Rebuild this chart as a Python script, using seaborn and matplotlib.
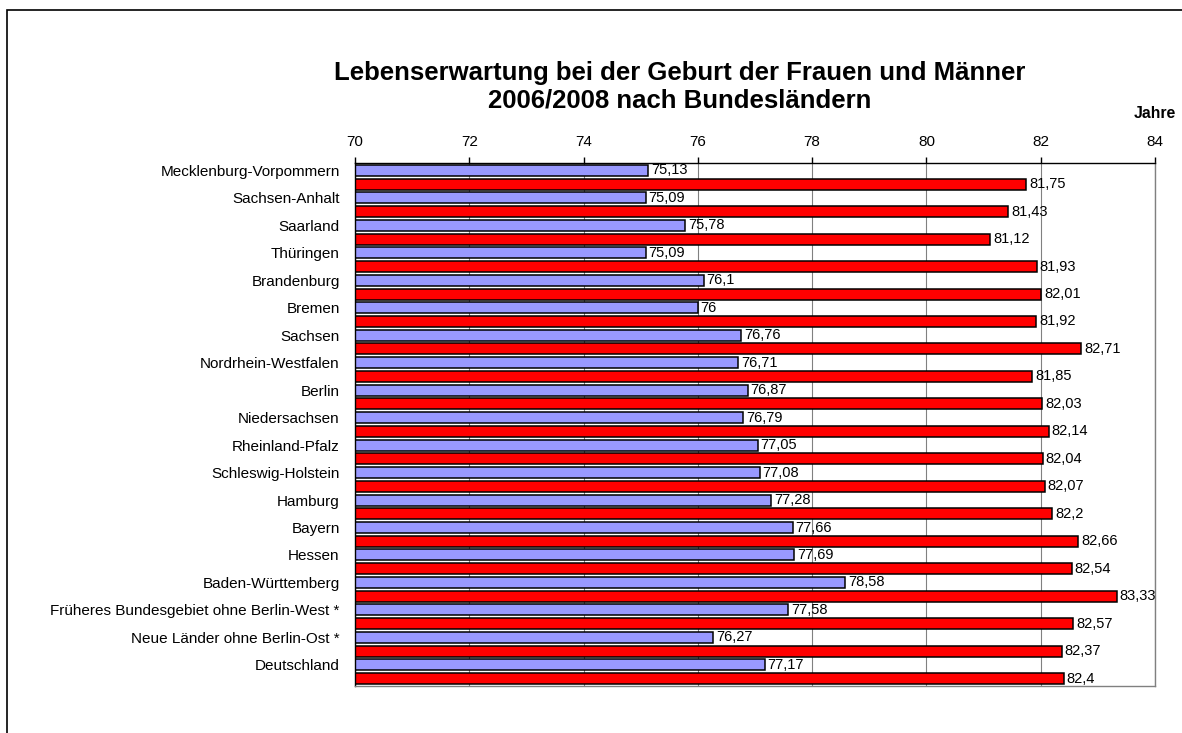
import pandas as pd
import numpy as np
import matplotlib
matplotlib.use("Agg")
import matplotlib.pyplot as plt
import matplotlib.patches as mpatches
import seaborn as sns

# Data
laender = [
    "Mecklenburg-Vorpommern", "Sachsen-Anhalt", "Saarland", "Thüringen",
    "Brandenburg", "Bremen", "Sachsen", "Nordrhein-Westfalen", "Berlin",
    "Niedersachsen", "Rheinland-Pfalz", "Schleswig-Holstein", "Hamburg",
    "Bayern", "Hessen", "Baden-Württemberg",
    "Früheres Bundesgebiet ohne Berlin-West *",
    "Neue Länder ohne Berlin-Ost *", "Deutschland",
]
maenner = [75.13, 75.09, 75.78, 75.09, 76.1, 76, 76.76, 76.71, 76.87, 76.79,
           77.05, 77.08, 77.28, 77.66, 77.69, 78.58, 77.58, 76.27, 77.17]
frauen = [81.75, 81.43, 81.12, 81.93, 82.01, 81.92, 82.71, 81.85, 82.03, 82.14,
          82.04, 82.07, 82.2, 82.66, 82.54, 83.33, 82.57, 82.37, 82.4]
x_ticks = [70, 72, 74, 76, 78, 80, 82, 84]

df = pd.DataFrame({
    "Land": laender * 2,
    "Jahre": maenner + frauen,
    "Geschlecht": ["Männer"] * len(laender) + ["Frauen"] * len(laender),
})

sns.set_style("white")
plt.rcParams['font.family'] = ['Liberation Sans', 'DejaVu Sans']
plt.rcParams['text.color'] = 'black'
plt.rcParams['xtick.color'] = 'black'
plt.rcParams['ytick.color'] = 'black'

fig = plt.figure(figsize=(11.82, 7.33), dpi=100)
ax = fig.add_axes([355 / 1182, 1 - 686 / 733, 800 / 1182, 523 / 733])

sns.barplot(data=df, y="Land", x="Jahre", hue="Geschlecht", orient="h",
            palette=["#9999FF", "#FF0000"], saturation=1, width=1.0, gap=0.2,
            edgecolor="black", linewidth=1.1, legend=False, ax=ax)

# value labels with German decimal comma
for cont in ax.containers:
    labels = [f"{b.get_width():g}".replace(".", ",") for b in cont]
    ax.bar_label(cont, labels=labels, padding=2, fontsize=10.5, color="black")

ax.set_xlim(70, 84)
ax.set_ylim(len(laender) - 0.5 + 0.02, -0.5 - 0.02)
ax.set_xticks(x_ticks)
ax.xaxis.tick_top()
ax.tick_params(axis="x", direction="out", length=4, width=1, color="black",
               labelsize=11, pad=6)
ax.set_yticks(np.arange(len(laender)) - 0.25)
ax.set_yticklabels(laender)
ax.tick_params(axis="y", length=0, labelsize=11, pad=11)
ax.set_xlabel("")
ax.set_ylabel("")

ax.grid(axis="x", color="#808080", linewidth=0.8)
ax.grid(axis="y", visible=False)
ax.set_axisbelow(True)

for side in ["left", "top"]:
    ax.spines[side].set_color("black")
    ax.spines[side].set_linewidth(1)
for side in ["right", "bottom"]:
    ax.spines[side].set_color("#808080")
    ax.spines[side].set_linewidth(1)

fig.text(680 / 1182, 1 - 73 / 733,
         "Lebenserwartung bei der Geburt der Frauen und Männer",
         ha="center", va="center", fontsize=18.5, fontweight="bold")
fig.text(680 / 1182, 1 - 101 / 733, "2006/2008 nach Bundesländern",
         ha="center", va="center", fontsize=18.5, fontweight="bold")
fig.text(1176 / 1182, 1 - 113 / 733, "Jahre", ha="right", va="center",
         fontsize=11.3, fontweight="bold")

# outer chart frame (runs off the right and bottom edges)
frame = mpatches.Rectangle((7 / 1182, -0.1), 1.2, 1.1 - 10 / 733,
                           transform=fig.transFigure, fill=False,
                           edgecolor="black", linewidth=1.2, clip_on=False)
fig.patches.append(frame)

fig.savefig("out.png", dpi=100)
